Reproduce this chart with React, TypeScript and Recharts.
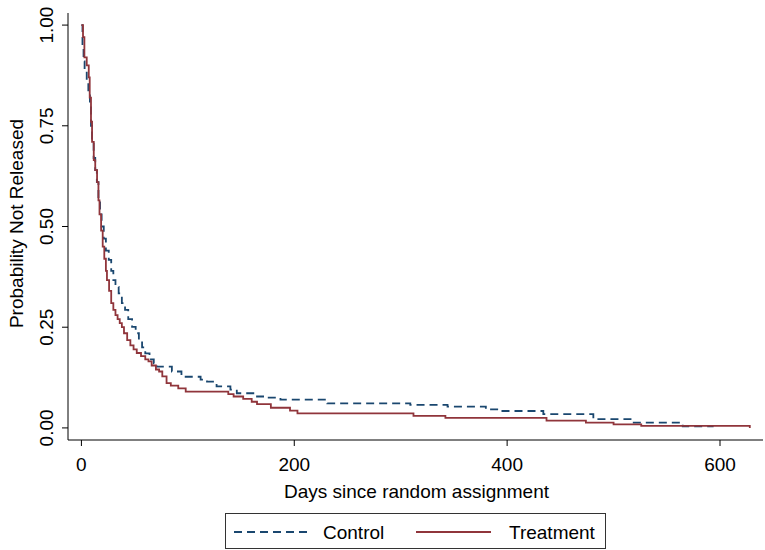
import React from "react";
import { LineChart, Line, XAxis, YAxis } from "recharts";

// Kaplan-Meier step points: day where the step starts, survival value from there on
const controlDays = [
  0, 1, 2, 3, 5, 6.5, 8, 9, 10, 11.5, 13, 14.5, 16, 17.5, 19, 21, 23, 25.7, 28,
  30, 32, 35, 38, 41, 44, 47.6, 51, 54, 57, 60, 64, 68, 71, 85, 94, 112, 118,
  127, 140, 146, 165, 173, 187, 231, 309, 344, 380, 393, 434, 481, 518, 565, 594,
];
const controlValues = [
  1.0, 0.95, 0.91, 0.89, 0.86, 0.83, 0.8, 0.75, 0.71, 0.67, 0.64, 0.61, 0.57,
  0.53, 0.5, 0.47, 0.44, 0.417, 0.39, 0.367, 0.35, 0.334, 0.31, 0.293, 0.27,
  0.251, 0.235, 0.218, 0.2, 0.185, 0.17, 0.16, 0.152, 0.14, 0.127, 0.12, 0.115,
  0.103, 0.095, 0.086, 0.078, 0.075, 0.07, 0.061, 0.057, 0.053, 0.046, 0.042,
  0.034, 0.022, 0.013, 0.004, 0.004,
];

const treatmentDays = [
  0, 1.5, 2.8, 5, 6.9, 7.8, 9, 10, 11.6, 13, 14.7, 16, 17, 18.5, 20, 21.5, 23,
  24, 26, 28, 30, 32, 34, 36, 38, 40, 43, 46, 49, 52, 56, 60, 63, 66, 70, 73,
  76, 80, 84, 91, 98, 138, 143, 152, 160, 165, 178, 196, 203, 312, 342, 437,
  474, 500, 526, 628,
];
const treatmentValues = [
  1.0, 0.97, 0.92, 0.9, 0.87, 0.82, 0.76, 0.71, 0.665, 0.64, 0.61, 0.565, 0.53,
  0.49, 0.45, 0.42, 0.39, 0.367, 0.34, 0.31, 0.293, 0.28, 0.27, 0.26, 0.25,
  0.235, 0.218, 0.205, 0.195, 0.186, 0.178, 0.17, 0.165, 0.155, 0.145, 0.14,
  0.128, 0.111, 0.105, 0.098, 0.09, 0.084, 0.078, 0.072, 0.065, 0.059, 0.05,
  0.043, 0.036, 0.03, 0.025, 0.018, 0.013, 0.009, 0.005, 0,
];

const xTicks = [0, 200, 400, 600];
const yTicks = [0, 0.25, 0.5, 0.75, 1];

const NAVY = "#1a476f";
const MAROON = "#90353b";
const FONT = "'Liberation Sans', Arial, Helvetica, sans-serif";

const controlData = controlDays.map((d, i) => ({ day: d, control: controlValues[i] }));
const treatmentData = treatmentDays.map((d, i) => ({ day: d, treatment: treatmentValues[i] }));

const YTick = ({ x, y, payload }: any) => (
  <text
    x={x}
    y={y}
    transform={`rotate(-90 ${x} ${y})`}
    textAnchor="middle"
    fontSize={19}
    fontFamily={FONT}
    fill="#000"
  >
    {Number(payload.value).toFixed(2)}
  </text>
);

const YTitle = ({ viewBox }: any) => {
  const cx = 23;
  const cy = viewBox.y + viewBox.height / 2 - 3;
  return (
    <text
      x={cx}
      y={cy}
      transform={`rotate(-90 ${cx} ${cy})`}
      textAnchor="middle"
      fontSize={19}
      fontFamily={FONT}
      fill="#000"
    >
      Probability Not Released
    </text>
  );
};

const XTitle = ({ viewBox }: any) => (
  <text
    x={viewBox.x + viewBox.width / 2 + 1}
    y={498}
    textAnchor="middle"
    fontSize={19}
    fontFamily={FONT}
    fill="#000"
  >
    Days since random assignment
  </text>
);

function LegendBox() {
  return (
    <div
      style={{
        position: "absolute",
        left: 225,
        top: 513,
        width: 379,
        height: 34,
        border: "1px solid #333",
        background: "#fff",
        fontFamily: FONT,
        fontSize: 19,
      }}
    >
      <svg width={379} height={34} style={{ display: "block" }}>
        <line x1={8} x2={84} y1={18} y2={18} stroke={NAVY} strokeWidth={2} strokeDasharray="8 5" />
        <text x={97} y={25} fontSize={19} fontFamily={FONT} fill="#000">
          Control
        </text>
        <line x1={190} x2={265} y1={18} y2={18} stroke={MAROON} strokeWidth={2} />
        <text x={283} y={25} fontSize={19} fontFamily={FONT} fill="#000">
          Treatment
        </text>
      </svg>
    </div>
  );
}

export default function App() {
  return (
    <div style={{ position: "relative", width: 765, height: 550, background: "#fff" }}>
      <style>{`body{margin:0}`}</style>
      <LineChart
        width={765}
        height={550}
        margin={{ top: 13, right: 2, bottom: 50, left: 8 }}
      >
        <XAxis
          dataKey="day"
          type="number"
          domain={[-12.6, 640.4]}
          ticks={xTicks}
          allowDataOverflow
          height={60}
          tickSize={6}
          tickMargin={12}
          stroke="#000"
          tick={{ fontSize: 19, fill: "#000", fontFamily: FONT }}
          label={<XTitle />}
        />
        <YAxis
          type="number"
          domain={[-0.03, 1.03]}
          ticks={yTicks}
          allowDataOverflow
          width={60}
          tickSize={6}
          tickMargin={9}
          stroke="#000"
          tick={<YTick />}
          label={<YTitle />}
        />
        <Line
          data={controlData}
          dataKey="control"
          type="stepAfter"
          stroke={NAVY}
          strokeWidth={1.8}
          strokeDasharray="8 5"
          dot={false}
          isAnimationActive={false}
        />
        <Line
          data={treatmentData}
          dataKey="treatment"
          type="stepAfter"
          stroke={MAROON}
          strokeWidth={1.8}
          dot={false}
          isAnimationActive={false}
        />
      </LineChart>
      <LegendBox />
    </div>
  );
}
